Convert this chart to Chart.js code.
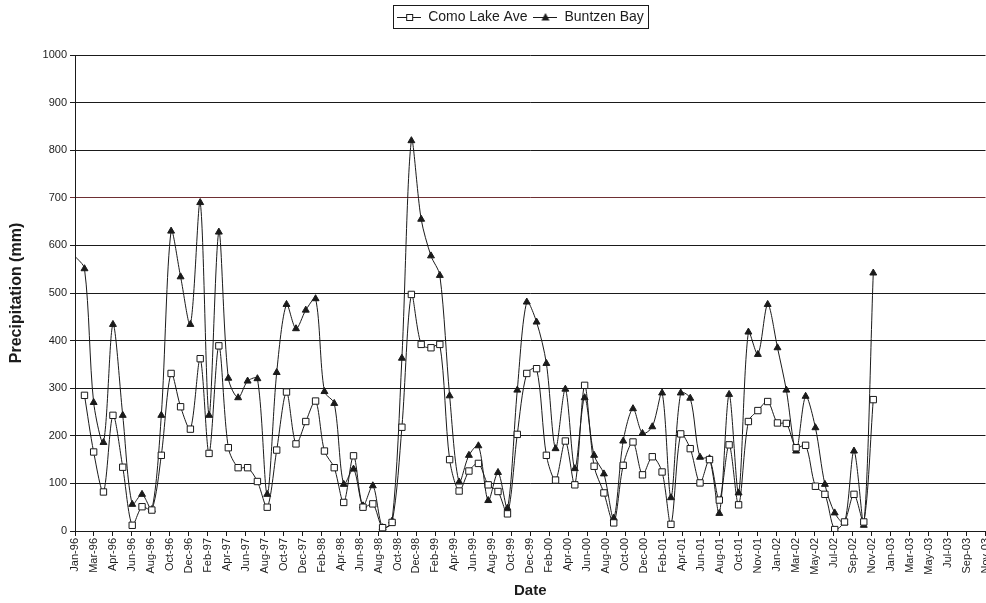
<!DOCTYPE html>
<html>
<head>
<meta charset="utf-8">
<title>Precipitation - Como Lake Ave / Buntzen Bay</title>
<script src="https://cdn.jsdelivr.net/npm/chart.js@4.4.1/dist/chart.umd.min.js"></script>
<style>
  html, body { margin: 0; padding: 0; background: #fff; overflow: hidden; }
  #wrap { width: 986px; height: 603px; overflow: hidden; }
</style>
</head>
<body>
<div id="wrap"><canvas id="precipChart" width="991" height="603"></canvas></div>
<script>
// monthly totals (mm), one value per month-end starting Dec-95, ending Nov-02
// (Como Lake Ave has no Dec-95 value)
const como = [null,
  285, 166, 82, 243, 134, 12, 51, 44, 159, 331,
  261, 214, 362, 163, 389, 175, 133, 133, 104, 50,
  170, 292, 183, 230, 273, 168, 133, 60, 158, 50,
  57, 7, 18, 218, 497, 392, 385, 392, 150, 84,
  126, 142, 97, 83, 36, 203, 331, 341, 159, 107,
  189, 97, 306, 136, 80, 17, 138, 187, 118, 156,
  124, 14, 204, 173, 101, 150, 65, 181, 55, 230,
  253, 272, 227, 226, 175, 180, 94, 77, 3, 19,
  77, 19, 276];
const buntzen = [578,
  551, 270, 186, 434, 243, 56, 77, 45, 243, 630,
  534, 434, 690, 243, 628, 321, 280, 315, 320, 77,
  333, 476, 425, 464, 488, 293, 268, 98, 130, 53,
  95, 7, 21, 363, 820, 655, 578, 537, 284, 103,
  159, 179, 64, 123, 48, 296, 481, 439, 352, 173,
  298, 131, 280, 159, 120, 27, 189, 257, 205, 219,
  290, 70, 290, 279, 155, 152, 37, 287, 80, 418,
  371, 476, 385, 296, 168, 283, 217, 98, 38, 17,
  168, 12, 542];

// date axis ticks: every 60 days from 1 Jan 1996
const tickLabels = ['Jan-96', 'Mar-96', 'Apr-96', 'Jun-96', 'Aug-96', 'Oct-96', 'Dec-96',
  'Feb-97', 'Apr-97', 'Jun-97', 'Aug-97', 'Oct-97', 'Dec-97',
  'Feb-98', 'Apr-98', 'Jun-98', 'Aug-98', 'Oct-98', 'Dec-98',
  'Feb-99', 'Apr-99', 'Jun-99', 'Aug-99', 'Oct-99', 'Dec-99',
  'Feb-00', 'Apr-00', 'Jun-00', 'Aug-00', 'Oct-00', 'Dec-00',
  'Feb-01', 'Apr-01', 'Jun-01', 'Aug-01', 'Oct-01', 'Nov-01',
  'Jan-02', 'Mar-02', 'May-02', 'Jul-02', 'Sep-02', 'Nov-02',
  'Jan-03', 'Mar-03', 'May-03', 'Jul-03', 'Sep-03', 'Nov-03'];
const tickStepDays = 60;

const ink = '#1a1a1a';
const fontFamily = "'Liberation Sans', Arial, sans-serif";
Chart.defaults.font.family = fontFamily;
Chart.defaults.color = '#1c1c1c';

// day offset (from 1 Jan 1996) of the month-end for entry k (k = 0 -> 31 Dec 1995)
const dayOf = k => (Date.UTC(1996, k, 0) - Date.UTC(1996, 0, 1)) / 864e5;
const toPoints = arr => arr.map((v, k) => ({ x: dayOf(k), y: v }));

// small "line + marker" pictures for the legend
function legendIcon(kind) {
  const c = document.createElement('canvas');
  c.width = 24; c.height = 10;
  const g = c.getContext('2d');
  g.strokeStyle = ink; g.lineWidth = 1;
  g.beginPath(); g.moveTo(0, 5.5); g.lineTo(24, 5.5); g.stroke();
  if (kind === 'rect') {
    g.fillStyle = '#fff';
    g.fillRect(9.5, 2.5, 6, 6);
    g.strokeRect(9.5, 2.5, 6, 6);
  } else {
    g.fillStyle = ink;
    g.beginPath(); g.moveTo(12, 1); g.lineTo(16, 8.5); g.lineTo(8, 8.5); g.closePath(); g.fill();
  }
  return c;
}
const legendIcons = [legendIcon('rect'), legendIcon('triangle')];

// legend: extra room under it, nudged right, framed
const legendFrame = {
  id: 'legendFrame',
  beforeLayout(chart) {
    const lg = chart.legend;
    if (lg && !lg._padded) {
      const fit = lg.fit;
      lg.fit = function () { fit.call(this); this.height += 21; };
      lg._padded = true;
    }
  },
  afterLayout(chart) {
    chart.legend.left += 23;
    chart.legend.right += 23;
  },
  afterDraw(chart) {
    const hb = chart.legend.legendHitBoxes;
    if (!hb || !hb.length) return;
    const left = Math.min(...hb.map(b => b.left)) - 4;
    const right = Math.max(...hb.map(b => b.left + b.width)) + 4;
    const top = hb[0].top - 5;
    const bottom = hb[0].top + hb[0].height + 4;
    const ctx = chart.ctx;
    ctx.save();
    ctx.strokeStyle = ink;
    ctx.lineWidth = 1;
    ctx.strokeRect(Math.round(left) + 0.5, Math.round(top) + 0.5, Math.round(right - left), Math.round(bottom - top));
    ctx.restore();
  }
};

const ctx = document.getElementById('precipChart').getContext('2d');
const precipChart = new Chart(ctx, {
  type: 'line',
  data: {
    datasets: [{
      label: 'Como Lake Ave',
      data: toPoints(como),
      borderColor: ink,
      borderWidth: 1,
      tension: 0.3,
      pointStyle: 'rect',
      pointRadius: 4.5,
      pointBackgroundColor: '#fff',
      pointBorderColor: ink,
      pointBorderWidth: 1
    }, {
      label: 'Buntzen Bay',
      data: toPoints(buntzen),
      borderColor: ink,
      borderWidth: 1,
      tension: 0.3,
      pointStyle: 'triangle',
      pointRadius: c => (c.raw && c.raw.x < 0 ? 0 : 4),
      pointBackgroundColor: ink,
      pointBorderColor: ink,
      pointBorderWidth: 1
    }]
  },
  options: {
    responsive: false,
    animation: false,
    layout: { padding: { top: 4, left: 4, right: 0, bottom: 0 } },
    plugins: {
      legend: {
        position: 'top',
        labels: {
          usePointStyle: true,
          pointStyleWidth: 24,
          padding: 6,
          color: '#1c1c1c',
          font: { size: 14 },
          generateLabels(chart) {
            const items = Chart.defaults.plugins.legend.labels.generateLabels(chart);
            items.forEach((it, i) => { it.pointStyle = legendIcons[i]; });
            return items;
          }
        }
      },
      tooltip: { enabled: false }
    },
    scales: {
      x: {
        type: 'linear',
        min: 0,
        max: tickStepDays * (tickLabels.length - 1),
        afterBuildTicks: axis => {
          axis.ticks = tickLabels.map((_, i) => ({ value: i * tickStepDays }));
        },
        afterFit: scale => {
          scale.height = 72;
          scale.paddingLeft = 0;
          scale.paddingRight = 0;
        },
        ticks: {
          autoSkip: false,
          minRotation: 90,
          maxRotation: 90,
          padding: 2,
          color: '#1c1c1c',
          font: { size: 11 },
          callback: (value, index) => tickLabels[index]
        },
        grid: { drawOnChartArea: false, drawTicks: true, tickLength: 5, color: ink },
        border: { color: ink, width: 1 },
        title: {
          display: true,
          text: 'Date',
          color: '#1c1c1c',
          font: { size: 15, weight: 'bold' },
          padding: { top: 2, bottom: 3 }
        }
      },
      y: {
        min: 0,
        max: 1000,
        afterFit: scale => { scale.width = 71; },
        ticks: {
          stepSize: 100,
          padding: 3,
          color: '#1c1c1c',
          font: { size: 11 },
          callback: v => String(v)
        },
        grid: {
          color: c => (c.tick && c.tick.value === 700 ? '#6e2f33' : ink),
          lineWidth: 1,
          tickLength: 5
        },
        border: { color: ink, width: 1 },
        title: {
          display: true,
          text: 'Precipitation (mm)',
          color: '#1c1c1c',
          font: { size: 16, weight: 'bold' },
          padding: { top: 3, bottom: 4 }
        }
      }
    }
  },
  plugins: [legendFrame]
});
</script>
</body>
</html>
